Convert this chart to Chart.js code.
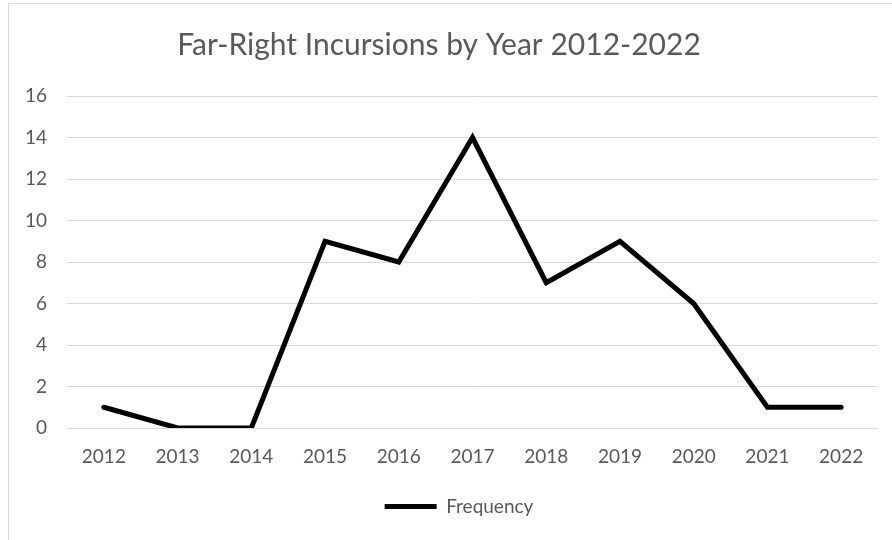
<!DOCTYPE html>
<html>
<head>
<meta charset="utf-8">
<script src="https://cdn.jsdelivr.net/npm/chart.js@4"></script>
<style>
  html, body { margin: 0; padding: 0; background: #fff; }
  #wrap { position: relative; width: 892px; height: 540px; }
</style>
</head>
<body>
<div id="wrap"><canvas id="chart" width="892" height="540"></canvas></div>
<script>
// data
const years = ['2012', '2013', '2014', '2015', '2016', '2017', '2018', '2019', '2020', '2021', '2022'];
const frequency = [1, 0, 0, 9, 8, 14, 7, 9, 6, 1, 1];
const yTicks = [0, 2, 4, 6, 8, 10, 12, 14, 16];

const FONT = 'Lato, "Open Sans", sans-serif';
const GREY = '#595959';

// outer frame like the office chart border
const framePlugin = {
  id: 'frame',
  beforeDraw(chart) {
    const ctx = chart.ctx;
    ctx.save();
    ctx.strokeStyle = '#d9d9d9';
    ctx.lineWidth = 1;
    ctx.strokeRect(8.5, 3.5, 1000, 1000);
    ctx.restore();
  }
};

// legend sits a little right of centre in the reference
const legendShift = {
  id: 'legendShift',
  afterLayout(chart) {
    chart.legend.left += 20;
    chart.legend.right += 20;
  }
};

new Chart(document.getElementById('chart'), {
  type: 'line',
  data: {
    labels: years,
    datasets: [{
      label: 'Frequency',
      data: frequency,
      borderColor: '#000',
      backgroundColor: '#000',
      borderWidth: 5,
      pointRadius: 0,
      tension: 0,
      borderCapStyle: 'round'
    }]
  },
  options: {
    responsive: false,
    animation: false,
    layout: { padding: { left: 0, right: 14, top: 0, bottom: 14 } },
    plugins: {
      title: {
        display: true,
        text: 'Far-Right Incursions by Year 2012-2022',
        color: GREY,
        font: { family: FONT, size: 30, weight: 'normal' },
        padding: { top: 27, bottom: 33 }
      },
      legend: {
        position: 'bottom',
        labels: {
          color: GREY,
          font: { family: FONT, size: 19 },
          usePointStyle: true,
          pointStyle: 'line',
          pointStyleWidth: 52,
          padding: 10
        }
      },
      tooltip: { enabled: false }
    },
    scales: {
      x: {
        offset: true,
        grid: { display: false },
        border: { display: false },
        ticks: { color: GREY, font: { family: FONT, size: 19 }, padding: 9, maxRotation: 0 },
        afterFit(scale) { scale.height = 59; }
      },
      y: {
        min: 0,
        max: 16,
        afterBuildTicks(scale) { scale.ticks = yTicks.map(v => ({ value: v })); },
        grid: { color: '#d9d9d9', lineWidth: 1, drawTicks: false },
        border: { display: false },
        ticks: { color: GREY, font: { family: FONT, size: 19 }, padding: 20 },
        afterFit(scale) { scale.width = 67; }
      }
    }
  },
  plugins: [framePlugin, legendShift]
});
</script>
</body>
</html>
